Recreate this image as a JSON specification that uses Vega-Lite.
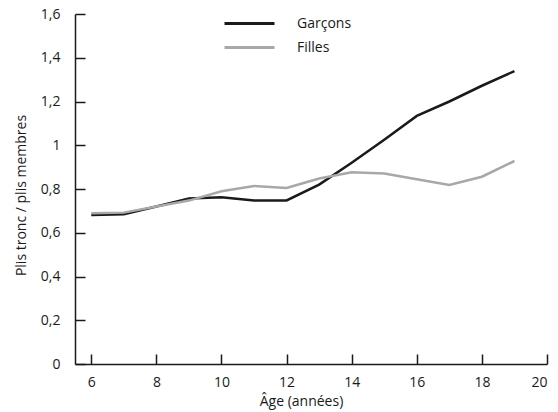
{
  "$schema": "https://vega.github.io/schema/vega-lite/v6.json",
  "width": 472,
  "height": 350,
  "autosize": {"type": "none"},
  "padding": {"left": 75, "top": 14, "right": 11, "bottom": 48},
  "background": "white",
  "config": {
    "view": {"stroke": null},
    "font": "Open Sans",
    "axis": {"ticks": false, "grid": true, "gridColor": "#1a1a1a", "gridWidth": 1.5, "gridOpacity": 1, "domainColor": "#1a1a1a", "domainWidth": 1.5, "labelFont": "Open Sans", "titleFont": "Open Sans", "labelFontSize": 14, "titleFontSize": 14, "labelColor": "#1a1a1a", "titleColor": "#1a1a1a", "titleFontWeight": "normal"}
  },
  "data": {
    "values": [
      {"age": 6, "sexe": "Garçons", "v": 0.681},
      {"age": 7, "sexe": "Garçons", "v": 0.685},
      {"age": 8, "sexe": "Garçons", "v": 0.72},
      {"age": 9, "sexe": "Garçons", "v": 0.757},
      {"age": 10, "sexe": "Garçons", "v": 0.762},
      {"age": 11, "sexe": "Garçons", "v": 0.748},
      {"age": 12, "sexe": "Garçons", "v": 0.748},
      {"age": 13, "sexe": "Garçons", "v": 0.82},
      {"age": 14, "sexe": "Garçons", "v": 0.92},
      {"age": 15, "sexe": "Garçons", "v": 1.025},
      {"age": 16, "sexe": "Garçons", "v": 1.134},
      {"age": 17, "sexe": "Garçons", "v": 1.2},
      {"age": 18, "sexe": "Garçons", "v": 1.272},
      {"age": 19, "sexe": "Garçons", "v": 1.339},
      {"age": 6, "sexe": "Filles", "v": 0.689},
      {"age": 7, "sexe": "Filles", "v": 0.692},
      {"age": 8, "sexe": "Filles", "v": 0.72},
      {"age": 9, "sexe": "Filles", "v": 0.747},
      {"age": 10, "sexe": "Filles", "v": 0.79},
      {"age": 11, "sexe": "Filles", "v": 0.814},
      {"age": 12, "sexe": "Filles", "v": 0.805},
      {"age": 13, "sexe": "Filles", "v": 0.848},
      {"age": 14, "sexe": "Filles", "v": 0.876},
      {"age": 15, "sexe": "Filles", "v": 0.871},
      {"age": 16, "sexe": "Filles", "v": 0.845},
      {"age": 17, "sexe": "Filles", "v": 0.818},
      {"age": 18, "sexe": "Filles", "v": 0.856},
      {"age": 19, "sexe": "Filles", "v": 0.928}
    ]
  },
  "mark": {"type": "line", "strokeWidth": 2.5},
  "encoding": {
    "x": {"field": "age", "type": "quantitative", "scale": {"domain": [5.5, 20], "nice": false, "zero": false},
      "axis": {"values": [6, 8, 10, 12, 14, 16, 18, 20], "labelPadding": 11, "title": "Âge (années)", "gridDash": [0, 340, 10, 20],
        "titleX": 226, "titleY": 41, "titleBaseline": "alphabetic", "titleAlign": "center"}},
    "y": {"field": "v", "type": "quantitative", "scale": {"domain": [0, 1.6], "nice": false},
      "axis": {"values": [0, 0.2, 0.4, 0.6, 0.8, 1, 1.2, 1.4, 1.6], "labelPadding": 15, "gridDash": [10, 3000],
        "labelExpr": "replace(format(datum.value, '.2~f'), '.', ',')", "title": "Plis tronc / plis membres",
        "titleX": -50, "titleY": 181, "titleAngle": -90, "titleBaseline": "alphabetic", "titleAlign": "center"}},
    "color": {"field": "sexe", "type": "nominal", "sort": ["Garçons", "Filles"],
      "scale": {"domain": ["Garçons", "Filles"], "range": ["#1a1a1a", "#a8a8a8"]},
      "legend": {"orient": "none", "legendX": 163, "legendY": -2, "title": null, "symbolType": "M-2.5,0H2.5", "symbolSize": 400, "symbolStrokeWidth": 3, "labelFontSize": 14, "labelFont": "Open Sans", "labelColor": "#1a1a1a", "labelOffset": 36, "rowPadding": 5}}
  }
}
